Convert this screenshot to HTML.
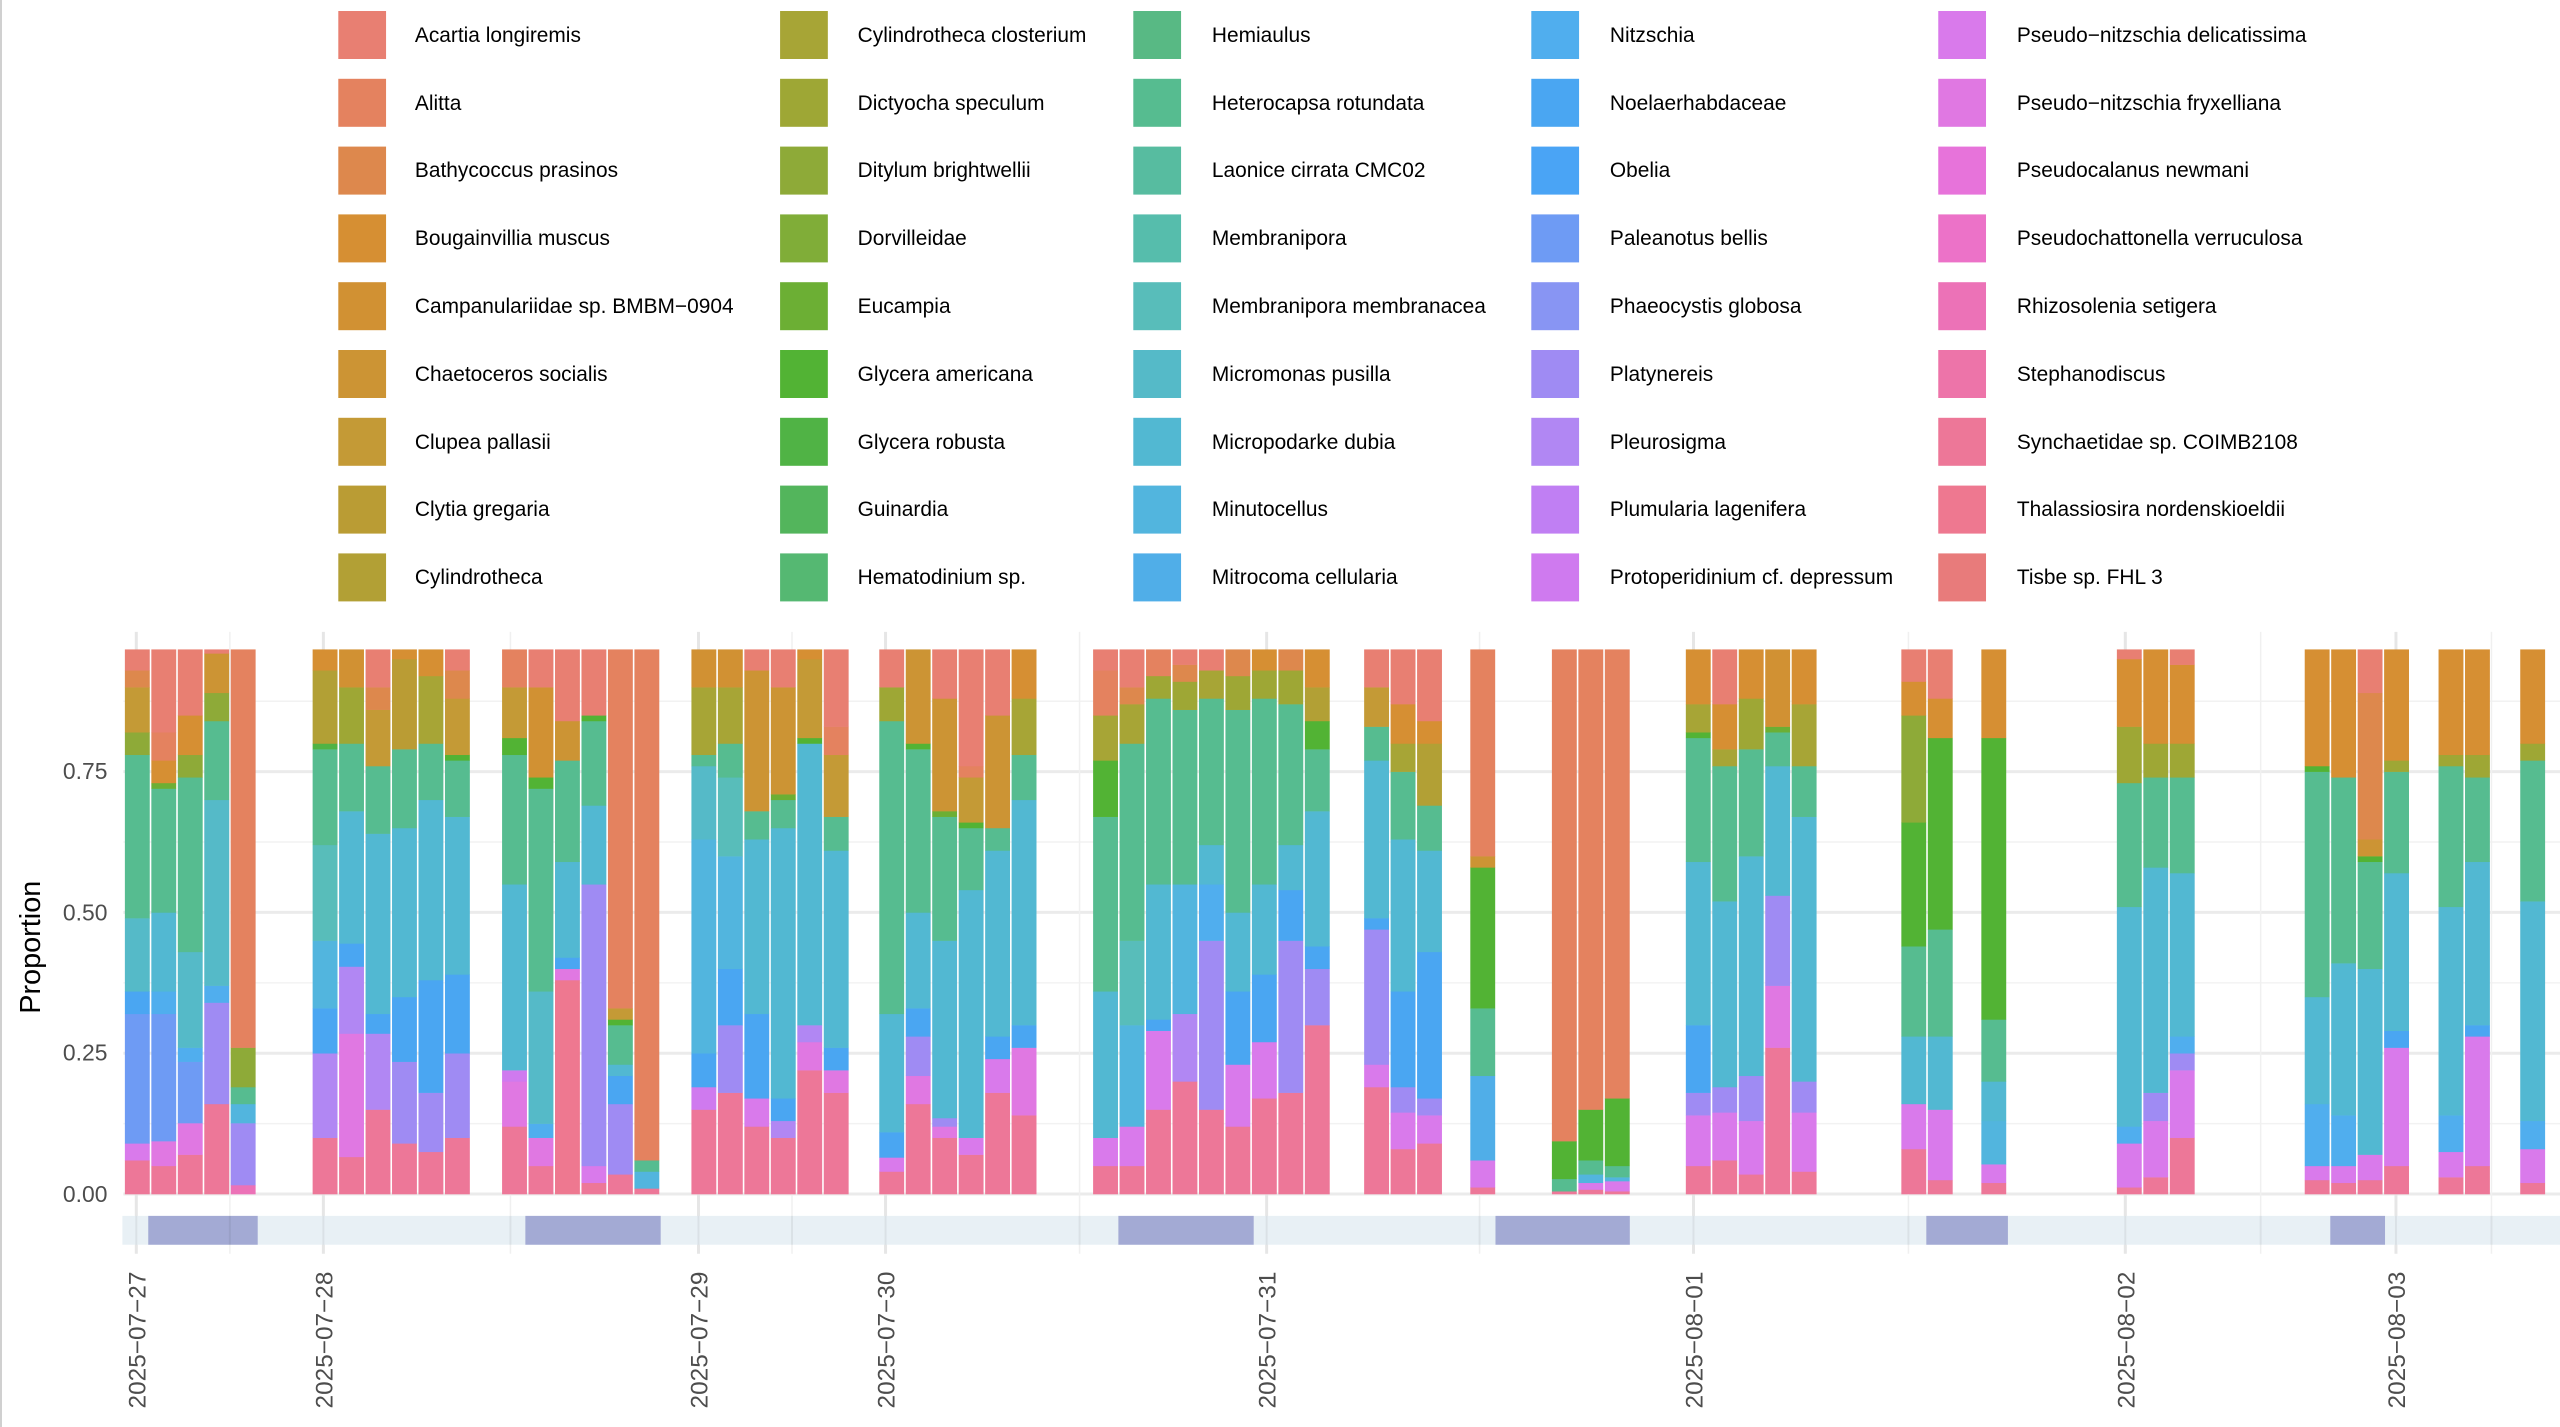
<!DOCTYPE html>
<html><head><meta charset="utf-8">
<style>
html,body{margin:0;padding:0;background:#fff;}
body{width:2560px;height:1427px;overflow:hidden;position:relative;font-family:"Liberation Sans",Arial,sans-serif;}
svg{position:absolute;left:0;top:0;}
</style></head>
<body>
<svg id="s" width="2560" height="1427" viewBox="0 0 2560 1427" xmlns="http://www.w3.org/2000/svg">
<rect x="0" y="0" width="2560" height="1427" fill="#fff"/>
<line x1="1" y1="0" x2="1" y2="1427" stroke="#d0d0d0" stroke-width="2"/>
<g transform="scale(0.995)">
<g id="grid"></g>
<g id="strip"></g>
<g id="bars"></g>
<g font-family="Liberation Sans, Arial, sans-serif" font-size="23" fill="#4d4d4d" text-anchor="end">
<text x="108" y="1208">0.00</text>
<text x="108" y="1066">0.25</text>
<text x="108" y="925">0.50</text>
<text x="108" y="783">0.75</text>
</g>
<text transform="translate(40,952) rotate(-90)" font-family="Liberation Sans, Arial, sans-serif" font-size="29" fill="#000" text-anchor="middle">Proportion</text>
<g font-family="Liberation Sans, Arial, sans-serif" font-size="24.5" fill="#4d4d4d" text-anchor="end">
<text transform="translate(146,1278) rotate(-90)">2025−07−27</text>
<text transform="translate(334,1278) rotate(-90)">2025−07−28</text>
<text transform="translate(711,1278) rotate(-90)">2025−07−29</text>
<text transform="translate(899,1278) rotate(-90)">2025−07−30</text>
<text transform="translate(1282,1278) rotate(-90)">2025−07−31</text>
<text transform="translate(1711,1278) rotate(-90)">2025−08−01</text>
<text transform="translate(2145,1278) rotate(-90)">2025−08−02</text>
<text transform="translate(2417,1278) rotate(-90)">2025−08−03</text>
</g>
</g>
<g transform="scale(0.995,1)">
<g id="legend"></g>
<g id="legtext" font-family="Liberation Sans, Arial, sans-serif" font-size="21" fill="#000">
<text x="417" y="42">Acartia longiremis</text>
<text x="417" y="110">Alitta</text>
<text x="417" y="177">Bathycoccus prasinos</text>
<text x="417" y="245">Bougainvillia muscus</text>
<text x="417" y="313">Campanulariidae sp. BMBM−0904</text>
<text x="417" y="381">Chaetoceros socialis</text>
<text x="417" y="449">Clupea pallasii</text>
<text x="417" y="516">Clytia gregaria</text>
<text x="417" y="584">Cylindrotheca</text>
<text x="862" y="42">Cylindrotheca closterium</text>
<text x="862" y="110">Dictyocha speculum</text>
<text x="862" y="177">Ditylum brightwellii</text>
<text x="862" y="245">Dorvilleidae</text>
<text x="862" y="313">Eucampia</text>
<text x="862" y="381">Glycera americana</text>
<text x="862" y="449">Glycera robusta</text>
<text x="862" y="516">Guinardia</text>
<text x="862" y="584">Hematodinium sp.</text>
<text x="1218" y="42">Hemiaulus</text>
<text x="1218" y="110">Heterocapsa rotundata</text>
<text x="1218" y="177">Laonice cirrata CMC02</text>
<text x="1218" y="245">Membranipora</text>
<text x="1218" y="313">Membranipora membranacea</text>
<text x="1218" y="381">Micromonas pusilla</text>
<text x="1218" y="449">Micropodarke dubia</text>
<text x="1218" y="516">Minutocellus</text>
<text x="1218" y="584">Mitrocoma cellularia</text>
<text x="1618" y="42">Nitzschia</text>
<text x="1618" y="110">Noelaerhabdaceae</text>
<text x="1618" y="177">Obelia</text>
<text x="1618" y="245">Paleanotus bellis</text>
<text x="1618" y="313">Phaeocystis globosa</text>
<text x="1618" y="381">Platynereis</text>
<text x="1618" y="449">Pleurosigma</text>
<text x="1618" y="516">Plumularia lagenifera</text>
<text x="1618" y="584">Protoperidinium cf. depressum</text>
<text x="2027" y="42">Pseudo−nitzschia delicatissima</text>
<text x="2027" y="110">Pseudo−nitzschia fryxelliana</text>
<text x="2027" y="177">Pseudocalanus newmani</text>
<text x="2027" y="245">Pseudochattonella verruculosa</text>
<text x="2027" y="313">Rhizosolenia setigera</text>
<text x="2027" y="381">Stephanodiscus</text>
<text x="2027" y="449">Synchaetidae sp. COIMB2108</text>
<text x="2027" y="516">Thalassiosira nordenskioeldii</text>
<text x="2027" y="584">Tisbe sp. FHL 3</text>
</g>
</g>
</svg>
<script>
(function(){
var NS="http://www.w3.org/2000/svg";
function el(p,t,a){var e=document.createElementNS(NS,t);for(var k in a)e.setAttribute(k,a[k]);p.appendChild(e);return e;}
var cols=["#e87f72","#e4825f","#dd884d","#d68f33","#d19133","#cc9434","#c49a36","#ba9c34","#b2a035",
"#a7a536","#9ea735","#8eaa38","#80ad38","#6caf34","#52b334","#50b345","#53b55c","#55b872",
"#58b984","#56bc90","#57bca0","#56bdac","#58bdba","#55bac8","#52b8d2","#52b5de","#50aee8",
"#50aeee","#4aa6f2","#4aa4f5","#6e9bf4","#8895f3","#9f8bf3","#b187f3","#c07ff3","#cf7aef",
"#d97aeb","#e078e2","#e773da","#ec72c8","#ec72b7","#ed74a9","#ed7798","#ee7890","#e87b7b"];
var grid=document.getElementById("grid");
function yv(v){return 1200-v*566;}
[0.125,0.375,0.625,0.875].forEach(function(v){el(grid,"line",{x1:124,x2:2580,y1:yv(v),y2:yv(v),stroke:"#f2f2f2","stroke-width":1.5});});
[0,0.25,0.5,0.75].forEach(function(v){el(grid,"line",{x1:124,x2:2580,y1:yv(v),y2:yv(v),stroke:"#ebebeb","stroke-width":3});});
[231,513,796,1085,1487,1918,2272,2504].forEach(function(x){el(grid,"line",{x1:x,x2:x,y1:635,y2:1260,stroke:"#f0f0f0","stroke-width":1.5});});
[137,325,702,890,1273,1702,2136,2408].forEach(function(x){el(grid,"line",{x1:x,x2:x,y1:635,y2:1260,stroke:"#e6e6e6","stroke-width":3});});
var st=document.getElementById("strip");
el(st,"rect",{x:123,y:1222,width:2460,height:29,fill:"#e8f0f5"});
[[149,259],[528,664],[1124,1260],[1503,1638],[1936,2018],[2342,2397]].forEach(function(r){el(st,"rect",{x:r[0],y:1222,width:r[1]-r[0],height:29,fill:"#a3aad4"});});
[137,231,325,513,702,796,890,1085,1273,1487,1702,1918,2136,2272,2408,2504].forEach(function(x){el(st,"line",{x1:x,x2:x,y1:1222,y2:1251,stroke:"#000","stroke-opacity":0.06,"stroke-width":2});});
var G=[
[124.7,[
[[42,.06],[36,.09],[30,.32],[28,.36],[23,.49],[19,.78],[11,.82],[6,.90],[2,.93],[0,.967]],
[[42,.05],[37,.094],[30,.32],[27,.36],[24,.50],[19,.72],[13,.73],[3,.77],[1,.82],[0,.967]],
[[42,.07],[37,.126],[30,.235],[27,.26],[23,.43],[19,.74],[11,.78],[3,.85],[0,.967]],
[[42,.16],[32,.34],[27,.37],[23,.70],[19,.84],[11,.89],[5,.96],[0,.967]],
[[40,.016],[32,.126],[25,.16],[19,.19],[11,.26],[1,.967]]]],
[313.4,[
[[42,.10],[33,.25],[28,.33],[25,.45],[22,.62],[19,.79],[15,.80],[8,.93],[3,.967]],
[[42,.066],[37,.285],[33,.404],[28,.445],[24,.68],[19,.80],[10,.90],[4,.967]],
[[42,.15],[33,.285],[28,.32],[24,.64],[19,.76],[6,.86],[2,.90],[0,.967]],
[[42,.09],[32,.235],[28,.35],[24,.65],[19,.79],[7,.95],[3,.967]],
[[42,.075],[32,.18],[28,.38],[24,.70],[19,.80],[9,.92],[3,.967]],
[[42,.10],[32,.25],[28,.39],[24,.67],[19,.77],[14,.78],[6,.88],[2,.93],[0,.967]]]],
[503.8,[
[[42,.12],[37,.20],[35,.22],[24,.55],[19,.78],[14,.81],[6,.90],[1,.967]],
[[42,.05],[37,.10],[27,.125],[23,.36],[19,.72],[14,.74],[4,.90],[0,.967]],
[[43,.38],[37,.40],[28,.42],[24,.59],[19,.77],[5,.84],[0,.967]],
[[42,.02],[36,.05],[32,.55],[24,.69],[19,.84],[14,.85],[0,.967]],
[[42,.035],[32,.16],[28,.21],[24,.23],[19,.30],[14,.31],[6,.33],[1,.967]],
[[42,.01],[25,.04],[19,.06],[1,.967]]]],
[694.1,[
[[42,.15],[35,.19],[28,.25],[25,.63],[23,.76],[19,.78],[9,.90],[4,.967]],
[[42,.18],[32,.30],[28,.40],[25,.60],[22,.74],[19,.80],[9,.90],[4,.967]],
[[42,.12],[36,.17],[28,.32],[24,.63],[19,.68],[5,.93],[0,.967]],
[[42,.10],[33,.13],[28,.17],[24,.65],[19,.70],[13,.71],[5,.90],[0,.967]],
[[42,.22],[37,.27],[33,.30],[24,.80],[14,.81],[6,.95],[3,.967]],
[[42,.18],[37,.22],[28,.26],[24,.61],[19,.67],[6,.78],[1,.83],[0,.967]]]],
[882.9,[
[[42,.04],[36,.065],[28,.11],[24,.32],[19,.84],[10,.90],[0,.967]],
[[42,.16],[37,.21],[32,.28],[28,.33],[24,.50],[19,.79],[14,.80],[5,.967]],
[[42,.10],[37,.12],[32,.135],[24,.45],[19,.67],[13,.68],[5,.88],[0,.967]],
[[42,.07],[36,.10],[24,.54],[19,.65],[14,.66],[6,.74],[1,.76],[0,.967]],
[[42,.18],[36,.24],[28,.28],[24,.61],[19,.65],[5,.85],[0,.967]],
[[42,.14],[37,.26],[28,.30],[24,.70],[19,.78],[9,.88],[3,.967]]]],
[1097.8,[
[[42,.05],[36,.10],[24,.36],[19,.67],[14,.77],[9,.85],[1,.93],[0,.967]],
[[42,.05],[36,.12],[25,.30],[22,.45],[19,.80],[9,.87],[2,.90],[0,.967]],
[[42,.15],[36,.29],[28,.31],[24,.55],[19,.88],[10,.92],[1,.967]],
[[42,.20],[33,.32],[25,.55],[19,.86],[10,.91],[2,.94],[0,.967]],
[[42,.15],[32,.45],[27,.55],[24,.62],[19,.88],[9,.93],[0,.967]],
[[42,.12],[36,.23],[28,.36],[24,.50],[19,.86],[10,.92],[2,.967]],
[[42,.17],[36,.27],[28,.39],[24,.55],[19,.88],[10,.93],[3,.967]],
[[42,.18],[32,.45],[28,.54],[24,.62],[19,.87],[10,.93],[2,.967]],
[[42,.30],[32,.40],[28,.44],[24,.68],[19,.79],[14,.84],[8,.90],[3,.967]]]],
[1370.2,[
[[42,.19],[36,.23],[32,.47],[28,.49],[24,.77],[19,.83],[6,.90],[0,.967]],
[[42,.08],[36,.145],[32,.19],[28,.36],[24,.63],[19,.75],[9,.80],[3,.87],[0,.967]],
[[42,.09],[36,.14],[32,.17],[28,.43],[24,.61],[19,.69],[8,.80],[3,.84],[0,.967]]]],
[1476.9,[
[[42,.012],[36,.06],[26,.21],[19,.33],[14,.58],[5,.60],[1,.967]]]],
[1558.9,[
[[42,.005],[19,.027],[14,.094],[1,.967]],
[[42,.008],[36,.02],[25,.035],[19,.06],[14,.15],[1,.967]],
[[42,.005],[36,.023],[25,.03],[19,.05],[14,.17],[1,.967]]]],
[1693.5,[
[[42,.05],[36,.14],[32,.18],[28,.30],[24,.59],[19,.81],[14,.82],[9,.87],[3,.967]],
[[42,.06],[36,.145],[32,.19],[24,.52],[19,.76],[9,.79],[3,.87],[0,.967]],
[[42,.035],[36,.13],[32,.21],[24,.60],[19,.79],[10,.88],[3,.967]],
[[42,.26],[37,.37],[32,.53],[24,.76],[19,.82],[13,.83],[4,.967]],
[[42,.04],[36,.145],[32,.20],[24,.67],[19,.76],[9,.87],[3,.967]]]],
[1910.1,[
[[42,.08],[36,.16],[24,.28],[19,.44],[14,.66],[11,.85],[3,.91],[0,.967]],
[[42,.025],[36,.15],[24,.28],[19,.47],[14,.81],[3,.88],[0,.967]]]],
[1990.5,[
[[42,.02],[36,.053],[25,.13],[24,.20],[19,.31],[14,.81],[3,.967]]]],
[2126.7,[
[[42,.012],[36,.09],[27,.12],[24,.51],[19,.73],[10,.83],[3,.95],[0,.967]],
[[42,.03],[36,.13],[32,.18],[24,.58],[19,.74],[10,.80],[3,.967]],
[[42,.10],[36,.22],[32,.25],[27,.28],[24,.57],[19,.74],[10,.80],[3,.94],[0,.967]]]],
[2315.5,[
[[42,.025],[36,.05],[27,.16],[24,.35],[19,.75],[14,.76],[3,.967]],
[[42,.02],[36,.05],[27,.14],[24,.41],[19,.74],[3,.967]],
[[42,.025],[36,.07],[24,.40],[19,.59],[14,.60],[5,.63],[2,.89],[0,.967]],
[[42,.05],[36,.26],[28,.29],[24,.57],[19,.75],[10,.77],[3,.967]]]],
[2450.0,[
[[42,.03],[36,.075],[27,.14],[24,.51],[19,.76],[10,.78],[3,.967]],
[[42,.05],[36,.28],[28,.30],[24,.59],[19,.74],[10,.78],[3,.967]]]],
[2532.1,[
[[42,.02],[36,.08],[27,.13],[24,.52],[19,.77],[10,.80],[3,.967]]]]
];
var bg=document.getElementById("bars");var W=26.6;
G.forEach(function(g){g[1].forEach(function(bar,bi){var x=g[0]+bi*W;var prev=0;
bar.forEach(function(seg){var y1=yv(seg[1]),y0=yv(prev);
el(bg,"rect",{x:x+0.8,y:y1,width:W-1.6,height:y0-y1+0.3,fill:cols[seg[0]]});prev=seg[1];});});});
var lg=document.getElementById("legend");var lx=[340,784,1139,1539,1948];
for(var i=0;i<45;i++){var c=Math.floor(i/9),r=i%9;el(lg,"rect",{x:lx[c],y:11+r*67.8,width:48,height:48,fill:cols[i]});}
})();
</script>
</body></html>
